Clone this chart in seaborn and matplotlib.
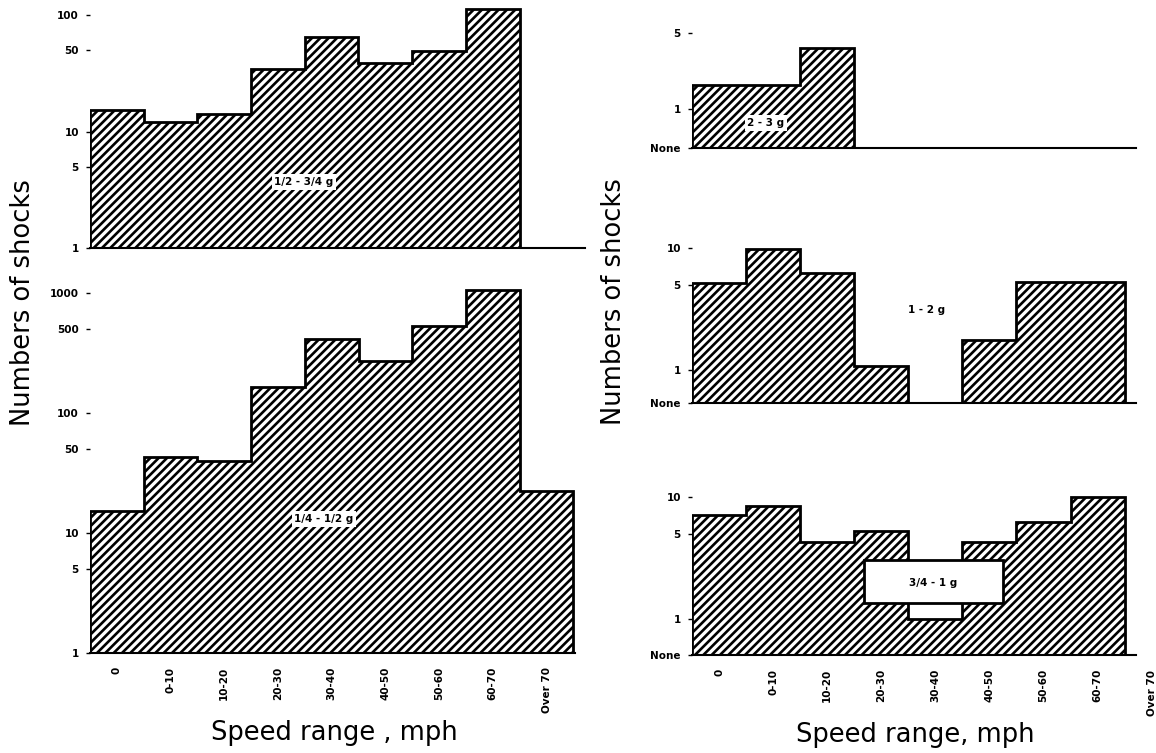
import numpy as np
import matplotlib.pyplot as plt
import seaborn as sns
from matplotlib.patches import Rectangle
from matplotlib.ticker import NullLocator

# speed ranges along the x axis
speed_ranges = ['0', '0-10', '10-20', '20-30', '30-40', '40-50', '50-60', '60-70', 'Over 70']

# numbers of shocks per speed range (0 = none)
shocks_half_to_3q = [15.3, 12.1, 14.1, 34.4, 64.7, 38.7, 49.1, 112.7, 0]
shocks_quarter_to_half = [15.3, 43, 40, 165, 414, 271, 531, 1059, 22.4]
shocks_2_to_3 = [1.66, 1.66, 3.63, 0, 0, 0, 0, 0, 0]
shocks_1_to_2 = [5.2, 9.8, 6.2, 1.08, 0, 1.76, 5.3, 5.3, 0]
shocks_3q_to_1 = [7.1, 8.4, 4.3, 5.3, 1.0, 4.3, 6.2, 10, 0]

left_yticks_top = [1, 5, 10, 50, 100]
left_yticks_bottom = [1, 5, 10, 50, 100, 500, 1000]
right_yticks_top = [1, 5]
right_yticks = [1, 5, 10]

sns.set_style('white')
plt.rcParams['font.family'] = ['DejaVu Sans']
plt.rcParams['hatch.linewidth'] = 1.9
plt.rcParams['hatch.color'] = 'black'
plt.rcParams['text.color'] = 'black'
plt.rcParams['xtick.color'] = 'black'
plt.rcParams['ytick.color'] = 'black'

W, H = 1156, 753
fig = plt.figure(figsize=(W / 100, H / 100), dpi=100)


def px_axes(left, top, right, bottom):
    return fig.add_axes([left / W, 1 - bottom / H, (right - left) / W, (bottom - top) / H])


def draw_panel(ax, values, ylim, xmax, yticks, none_label=False, xlabels=False, over70=False):
    sns.barplot(x=speed_ranges, y=values, ax=ax, width=1.0, color='white',
                saturation=1, edgecolor='black', linewidth=0, hatch='////')
    ax.set_yscale('log')
    ax.set_ylim(*ylim)
    ax.set_xlim(-0.5, xmax)

    # histogram outline
    vals = np.array(values, dtype=float)
    outline = np.where(vals > 0, vals, ylim[0])
    ax.stairs(outline, np.arange(len(vals) + 1) - 0.5, baseline=ylim[0],
              color='black', linewidth=2, zorder=3)

    for side in ['top', 'right', 'left']:
        ax.spines[side].set_visible(False)
    ax.spines['bottom'].set_color('black')
    ax.spines['bottom'].set_linewidth(1.5)

    ticks = list(yticks)
    labels = [str(t) for t in yticks]
    if none_label:
        ticks = [ylim[0]] + ticks
        labels = ['None'] + labels
    ax.set_yticks(ticks, labels)
    ax.yaxis.set_minor_locator(NullLocator())
    ax.tick_params(axis='y', left=True, length=3, width=1, pad=5,
                   labelsize=7.5, colors='black')
    for lab in ax.get_yticklabels():
        lab.set_fontweight('bold')

    if xlabels:
        n_vis = int(np.floor(xmax + 0.5))
        ax.set_xticks(range(n_vis), speed_ranges[:n_vis], rotation=90)
        ax.tick_params(axis='x', bottom=False, length=0, pad=10, labelsize=7.5)
        for lab in ax.get_xticklabels():
            lab.set_fontweight('bold')
        if over70:
            ax.text(8, -0.09, speed_ranges[8], transform=ax.get_xaxis_transform(),
                    rotation=90, ha='center', va='top', fontsize=7.5,
                    fontweight='bold', clip_on=False)
    else:
        ax.set_xticks([])
    ax.set_xlabel('')
    ax.set_ylabel('')


label_box = dict(facecolor='white', edgecolor='none', pad=2)

# left column
ax_tl = px_axes(90, 5, 585, 248)
draw_panel(ax_tl, shocks_half_to_3q, (1, 122), 8.72, left_yticks_top)
fig.text(304 / W, 1 - 182 / H, '1/2 - 3/4 g', ha='center', va='center',
         fontsize=7.5, fontweight='bold', bbox=label_box, zorder=6)

ax_bl = px_axes(90, 285, 575, 653)
draw_panel(ax_bl, shocks_quarter_to_half, (1, 1166), 8.53, left_yticks_bottom,
           xlabels=True)
fig.text(324 / W, 1 - 519 / H, '1/4 - 1/2 g', ha='center', va='center',
         fontsize=7.5, fontweight='bold', bbox=label_box, zorder=6)

# right column
ax_tr = px_axes(692, 20, 1136, 148)
draw_panel(ax_tr, shocks_2_to_3, (0.439, 6.55), 7.71, right_yticks_top, none_label=True)
fig.text(766 / W, 1 - 123 / H, '2 - 3 g', ha='center', va='center',
         fontsize=7.5, fontweight='bold', bbox=label_box, zorder=6)

ax_mr = px_axes(692, 240, 1136, 403)
draw_panel(ax_mr, shocks_1_to_2, (0.536, 11.6), 7.71, right_yticks, none_label=True)
fig.text(927 / W, 1 - 310 / H, '1 - 2 g', ha='center', va='center',
         fontsize=7.5, fontweight='bold', zorder=6)

ax_br = px_axes(692, 490, 1136, 655)
draw_panel(ax_br, shocks_3q_to_1, (0.507, 11.4), 7.71, right_yticks, none_label=True,
           xlabels=True, over70=True)
ax_br.add_patch(Rectangle((864 / W, 1 - 603 / H), (1003 - 864) / W, (603 - 560) / H,
                          transform=fig.transFigure, facecolor='white',
                          edgecolor='black', linewidth=2, zorder=4))
fig.text(933 / W, 1 - 583 / H, '3/4 - 1 g', ha='center', va='center',
         fontsize=7.5, fontweight='bold', zorder=6)

# axis titles
fig.text(334 / W, 1 - 733 / H, 'Speed range , mph', ha='center', va='center', fontsize=18.5)
fig.text(915 / W, 1 - 735 / H, 'Speed range, mph', ha='center', va='center', fontsize=18.5)
fig.text(23 / W, 1 - 303 / H, 'Numbers of shocks', rotation=90, ha='center',
         va='center', fontsize=18.5)
fig.text(614 / W, 1 - 302 / H, 'Numbers of shocks', rotation=90, ha='center',
         va='center', fontsize=18.5)

fig.savefig('out.png', dpi=100)
